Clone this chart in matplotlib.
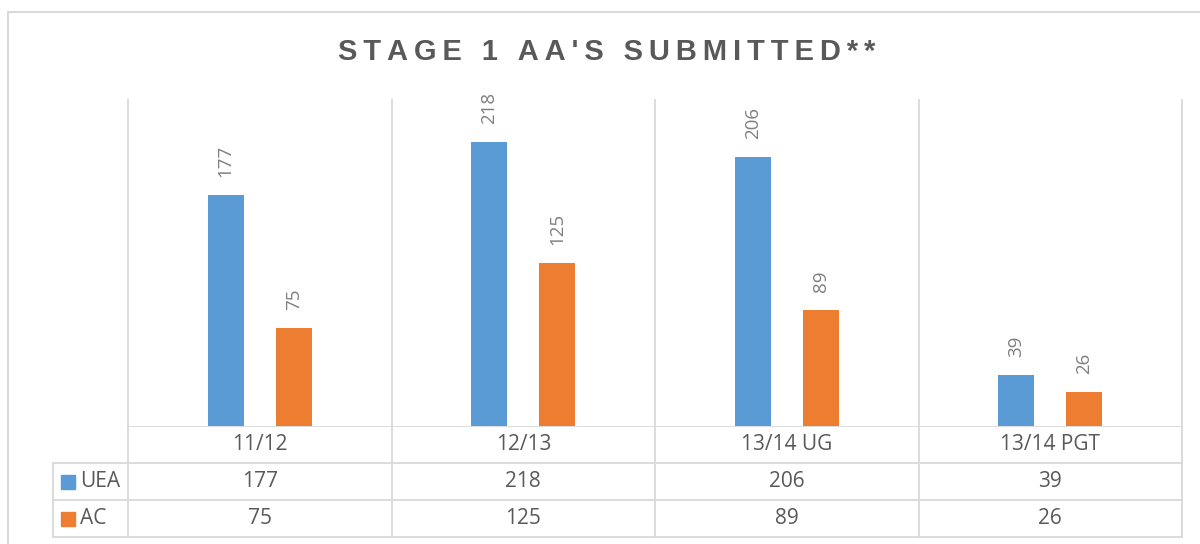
import matplotlib.pyplot as plt
import numpy as np

categories = ["11/12", "12/13", "13/14 UG", "13/14 PGT"]
series_names = ["UEA", "AC"]
uea = [177, 218, 206, 39]
ac = [75, 125, 89, 26]

title = "STAGE 1 AA'S SUBMITTED**"
blue = "#5B9BD5"
orange = "#ED7D31"
grid_c = "#D9D9D9"
text_c = "#595959"
W, H = 1200, 544

plt.rcParams['font.family'] = ['Open Sans', 'DejaVu Sans']

fig = plt.figure(figsize=(W / 100, H / 100), dpi=100)

# overlay in pixel coordinates for frame, title and data table
ov = fig.add_axes([0, 0, 1, 1])
ov.set_xlim(0, W)
ov.set_ylim(H, 0)
ov.axis("off")

# plot area
left, right, top, base = 128, 1182, 100, 426
ax = fig.add_axes([left / W, 1 - base / H, (right - left) / W, (base - top) / H])
n = len(categories)
x = np.arange(n)
bw = 0.137
off = 0.129
ax.bar(x - off, uea, bw, color=blue, zorder=2)
ax.bar(x + off, ac, bw, color=orange, zorder=2)
ax.set_xlim(-0.5, n - 0.5)
ax.set_ylim(0, 250)
for b in np.arange(n + 1) - 0.5:
    ax.axvline(b, color=grid_c, lw=1.3, zorder=1)
for s in ax.spines.values():
    s.set_visible(False)
ax.set_xticks([])
ax.set_yticks([])
for xi, v in zip(x - off, uea):
    ax.annotate(str(v), (xi, v), xytext=(0, 13), textcoords="offset points",
                rotation=90, ha="center", va="bottom", color="#7F7F7F", fontsize=13.5)
for xi, v in zip(x + off, ac):
    ax.annotate(str(v), (xi, v), xytext=(0, 13), textcoords="offset points",
                rotation=90, ha="center", va="bottom", color="#7F7F7F", fontsize=13.5)

# chart frame
ov.plot([8, 8, W + 5], [H + 5, 12, 12], color=grid_c, lw=1.5)

# title with letter spacing
ov.text(607, 52, "\u2009".join(title), ha="center", va="center",
        fontsize=21, fontweight="bold", color=text_c,
        family=["Liberation Sans", "DejaVu Sans"])

# data table
cw = (right - left) / n
rows = [426, 463, 500, 537]
leg_l = 53
ov.plot([left, right], [rows[0], rows[0]], color=grid_c, lw=1.3)
for r in rows[1:]:
    ov.plot([leg_l, right], [r, r], color=grid_c, lw=1.3)
for i in range(n + 1):
    ov.plot([left + i * cw] * 2, [top, rows[-1]], color=grid_c, lw=1.3)
ov.plot([leg_l, leg_l], [rows[1], rows[-1]], color=grid_c, lw=1.3)

fs = 15
for i, c in enumerate(categories):
    cx = left + (i + 0.5) * cw
    ov.text(cx, (rows[0] + rows[1]) / 2, c, ha="center", va="center", fontsize=fs, color=text_c)
    ov.text(cx, (rows[1] + rows[2]) / 2, str(uea[i]), ha="center", va="center", fontsize=fs, color=text_c)
    ov.text(cx, (rows[2] + rows[3]) / 2, str(ac[i]), ha="center", va="center", fontsize=fs, color=text_c)

for j, (name, col) in enumerate(zip(series_names, [blue, orange])):
    cy = (rows[j + 1] + rows[j + 2]) / 2
    ov.add_patch(plt.Rectangle((61, cy - 7), 14, 14, color=col))
    ov.text(80, cy, name, ha="left", va="center", fontsize=fs, color=text_c)

fig.savefig("out.png", dpi=100)
